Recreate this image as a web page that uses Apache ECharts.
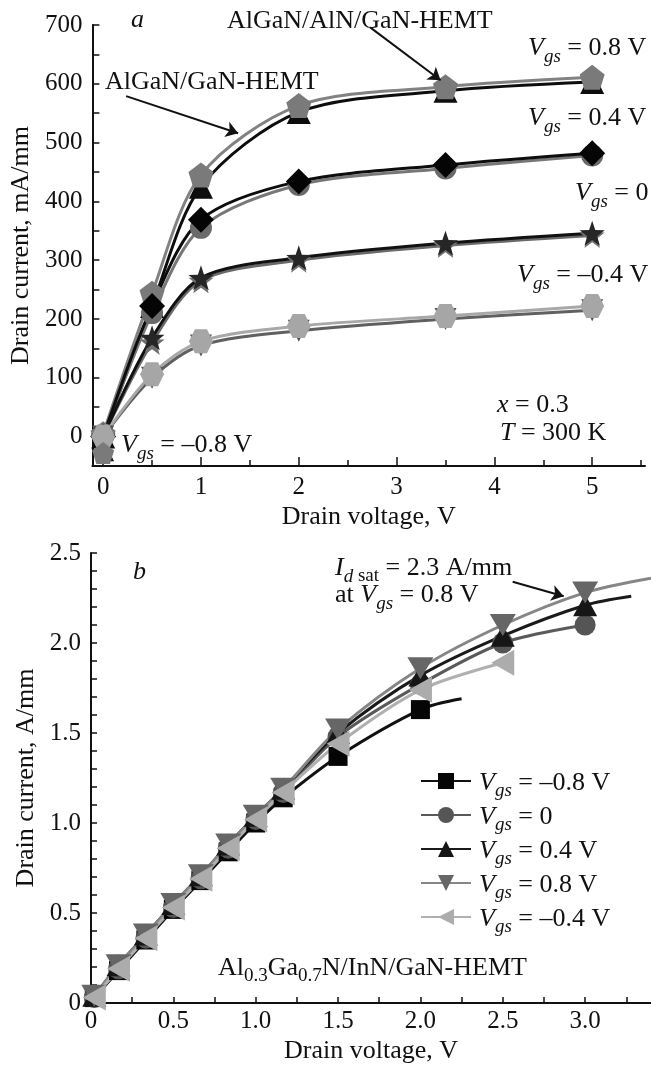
<!DOCTYPE html>
<html>
<head>
<meta charset="utf-8">
<script src="https://cdn.jsdelivr.net/npm/echarts@6.0.0/dist/echarts.min.js"></script>
<style>
  html, body { margin: 0; padding: 0; background: #fff; }
  #chart { width: 651px; height: 1070px; }
</style>
</head>
<body>
<div id="chart"></div>
<script>
// ---- panel a: AlGaN/GaN (black) vs AlGaN/AlN/GaN (gray), mA/mm ----
const aGaN08 = [[0, 0], [0.5, 222], [1, 425], [2, 552], [3.5, 588], [5, 603]]
const aGaN04 = [[0, 0], [0.5, 222], [1, 369], [2, 434], [3.5, 462], [5, 482]]
const aGaN0 = [[0, 0], [0.5, 168], [1, 270], [2, 304], [3.5, 329], [5, 346]]
const aGaNm04 = [[0, 0], [0.5, 100], [1, 155], [2, 180], [3.5, 200], [5, 215]]
const aAlN08 = [[0, 5], [0.5, 244], [1, 445], [2, 563], [3.5, 595], [5, 611]]
const aAlN04 = [[0, 0], [0.5, 210], [1, 355], [2, 428], [3.5, 456], [5, 478]]
const aAlN0 = [[0, 0], [0.5, 160], [1, 265], [2, 300], [3.5, 325], [5, 342]]
const aAlNm04 = [[0, 0], [0.5, 106], [1, 162], [2, 188], [3.5, 205], [5, 222]]
const aGaNm08 = [[0.04, -30]]
const aAlNm08 = [[0, -28]]

const aXLabels = [0, 1, 2, 3, 4, 5]
const aXTicks = [0, 1, 2, 3, 4, 5]
const aXMinorTicks = [0.5, 1.5, 2.5, 3.5, 4.5, 5.5]
const aYTicks = [0, 50, 100, 150, 200, 250, 300, 350, 400, 450, 500, 550, 600, 650, 700]
const aYLabels = [0, 100, 200, 300, 400, 500, 600, 700]

// ---- panel b: Al0.3Ga0.7N/InN/GaN, A/mm (last point without marker = end of fitted curve) ----
const bM08 = [[0.02, 0.03], [0.167, 0.18], [0.333, 0.35], [0.5, 0.52], [0.667, 0.68], [0.833, 0.84], [1.0, 1.0], [1.167, 1.14], [1.5, 1.37], [2.0, 1.63], [2.25, 1.69]]
const b0 = [[0.02, 0.03], [0.167, 0.19], [0.333, 0.36], [0.5, 0.53], [0.667, 0.69], [0.833, 0.86], [1.0, 1.02], [1.167, 1.17], [1.5, 1.48], [2.0, 1.77], [2.5, 2.0], [3.0, 2.1]]
const b04 = [[0.02, 0.04], [0.167, 0.21], [0.333, 0.38], [0.5, 0.55], [0.667, 0.71], [0.833, 0.88], [1.0, 1.04], [1.167, 1.19], [1.5, 1.5], [2.0, 1.82], [2.5, 2.04], [3.0, 2.21], [3.28, 2.26]]
const b08 = [[0.02, 0.04], [0.167, 0.21], [0.333, 0.38], [0.5, 0.55], [0.667, 0.71], [0.833, 0.88], [1.0, 1.04], [1.167, 1.19], [1.5, 1.52], [2.0, 1.86], [2.5, 2.1], [3.0, 2.28], [3.4, 2.36]]
const bM04 = [[0.02, 0.03], [0.167, 0.19], [0.333, 0.36], [0.5, 0.53], [0.667, 0.69], [0.833, 0.86], [1.0, 1.02], [1.167, 1.17], [1.5, 1.44], [2.0, 1.74], [2.5, 1.89]]

const bXTicks = [0, 0.25, 0.5, 0.75, 1, 1.25, 1.5, 1.75, 2, 2.25, 2.5, 2.75, 3, 3.25]
const bXLabels = [0, 0.5, 1, 1.5, 2, 2.5, 3]
const bYTicks = [0, 0.1, 0.2, 0.3, 0.4, 0.5, 0.6, 0.7, 0.8, 0.9, 1, 1.1, 1.2, 1.3, 1.4, 1.5, 1.6, 1.7, 1.8, 1.9, 2, 2.1, 2.2, 2.3, 2.4, 2.5]
const bYLabels = [0, 0.5, 1, 1.5, 2, 2.5]

const bEndPoints = [2.25, 3.28, 3.4] // x of curve ends drawn without marker

const FONT = 'Liberation Serif'
const PENTAGON = 'path://M0,-10 L9.51,-3.09 L5.88,8.09 L-5.88,8.09 L-9.51,-3.09 Z'
const HEXAGON = 'path://M-5,-9 L5,-9 L10,0 L5,9 L-5,9 L-10,0 Z'
const STAR = 'path://M0,-10 L2.35,-3.24 L9.51,-3.09 L3.8,1.24 L5.88,8.09 L0,4 L-5.88,8.09 L-3.8,1.24 L-9.51,-3.09 L-2.35,-3.24 Z'
const DOWN = 'path://M-10,-8 L10,-8 L0,9 Z'
const LEFT = 'path://M-10,0 L9,-10 L9,10 Z'

const rich = {
  i: { fontFamily: FONT, fontStyle: 'italic', fontSize: 26, lineHeight: 26, verticalAlign: 'top', color: '#111' },
  s: { fontFamily: FONT, fontStyle: 'italic', fontSize: 19, lineHeight: 18, padding: [12, 0, 0, 0], verticalAlign: 'top', color: '#111' },
  r: { fontFamily: FONT, fontSize: 19, lineHeight: 18, padding: [12, 0, 0, 0], verticalAlign: 'top', color: '#111' },
  n: { fontFamily: FONT, fontSize: 26, lineHeight: 26, verticalAlign: 'top', color: '#111' }
}
const legendRich = {
  i: { fontFamily: FONT, fontStyle: 'italic', fontSize: 26, lineHeight: 22, verticalAlign: 'top', color: '#111' },
  s: { fontFamily: FONT, fontStyle: 'italic', fontSize: 19, lineHeight: 16, padding: [11, 0, 0, 0], verticalAlign: 'top', color: '#111' },
  n: { fontFamily: FONT, fontSize: 26, lineHeight: 22, verticalAlign: 'top', color: '#111' }
}
const vgs = (rest) => `{i|V}{s|gs}{n| = ${rest}}`

const legendText = {
  bM08: vgs('–0.8 V'),
  b0: vgs('0'),
  b04: vgs('0.4 V'),
  b08: vgs('0.8 V'),
  bM04: vgs('–0.4 V')
}

// text with left edge x and centre y of main line
const txt = (x, y, text) => ({
  type: 'text',
  x: x,
  y: y - 13,
  style: { text: text, rich: rich, align: 'left', verticalAlign: 'top', font: `26px "${FONT}"`, fill: '#111' }
})

const isMult = (v, step) => Math.abs(v / step - Math.round(v / step)) < 1e-6

const arrowLine = (lines) => ({
  silent: true,
  animation: false,
  symbol: ['none', 'arrow'],
  symbolSize: 12,
  label: { show: false },
  lineStyle: { color: '#111', width: 2, type: 'solid' },
  emphasis: { disabled: true },
  data: lines.map(l => [{ coord: l[0] }, { coord: l[1] }])
})

const line = (name, data, grid, color, lineColor, symbol, size, extra) => Object.assign({
  name: name,
  type: 'line',
  xAxisIndex: grid === 0 ? 0 : 2,
  yAxisIndex: grid,
  data: data,
  smooth: 0.3,
  symbol: symbol,
  symbolSize: size,
  showAllSymbol: true,
  clip: false,
  lineStyle: { color: lineColor, width: 3 },
  itemStyle: { color: color, borderWidth: 0 },
  emphasis: { disabled: true }
}, extra || {})

// hide marker at the extrapolated curve ends in panel b
const bData = (arr) => arr.map(p => bEndPoints.includes(p[0]) ? { value: p, symbol: 'none' } : p)

const axisLine = { onZero: false, lineStyle: { color: '#111', width: 2 } }
const labelStyle = { color: '#111', fontFamily: FONT, fontSize: 25 }
const nameStyle = { color: '#111', fontFamily: FONT, fontSize: 26 }

const chart = echarts.init(document.getElementById('chart'), null, { renderer: 'canvas' })
chart.setOption({
  animation: false,
  backgroundColor: '#fff',
  grid: [
    { left: 91, right: 6, top: 25, bottom: 604 },
    { left: 91, right: 0, top: 553, bottom: 67 }
  ],
  xAxis: [
    {
      type: 'value', gridIndex: 0, min: -0.11, max: 5.54,
      axisLine: axisLine, splitLine: { show: false },
      name: 'Drain voltage, V', nameLocation: 'middle', nameGap: 38, nameTextStyle: nameStyle,
      axisTick: { inside: true, length: 9, customValues: aXTicks, lineStyle: { color: '#111', width: 1.5 } },
      axisLabel: Object.assign({ margin: 9, customValues: aXLabels }, labelStyle)
    },
    {
      type: 'value', gridIndex: 0, min: -0.11, max: 5.54, position: 'bottom',
      axisLine: { show: false, onZero: false }, splitLine: { show: false }, axisLabel: { show: false },
      axisTick: { inside: true, length: 6, customValues: aXMinorTicks, lineStyle: { color: '#111', width: 1.5 } }
    },
    {
      type: 'value', gridIndex: 1, min: 0, max: 3.4,
      axisLine: axisLine, splitLine: { show: false },
      name: 'Drain voltage, V', nameLocation: 'middle', nameGap: 35, nameTextStyle: nameStyle,
      axisTick: { inside: true, length: 6, customValues: bXTicks, lineStyle: { color: '#111', width: 1.5 } },
      axisLabel: Object.assign({
        margin: 6, customValues: bXLabels,
        formatter: v => v === 0 ? '0' : v.toFixed(1)
      }, labelStyle)
    }
  ],
  yAxis: [
    {
      type: 'value', gridIndex: 0, min: -50, max: 700,
      axisLine: axisLine, splitLine: { show: false },
      name: 'Drain current, mA/mm', nameLocation: 'middle', nameGap: 50, nameTextStyle: nameStyle,
      axisTick: { inside: true, length: 7, customValues: aYTicks, lineStyle: { color: '#111', width: 1.5 } },
      axisLabel: Object.assign({ margin: 10, customValues: aYLabels }, labelStyle)
    },
    {
      type: 'value', gridIndex: 1, min: 0, max: 2.5,
      axisLine: axisLine, splitLine: { show: false },
      name: 'Drain current, A/mm', nameLocation: 'middle', nameGap: 50, nameTextStyle: nameStyle,
      axisTick: { inside: true, length: 6, customValues: bYTicks, lineStyle: { color: '#111', width: 1.5 } },
      axisLabel: Object.assign({
        margin: 10, customValues: bYLabels,
        formatter: v => v === 0 ? '0' : (isMult(v, 0.5) ? v.toFixed(1) : '')
      }, labelStyle)
    }
  ],
  legend: {
    data: ['bM08', 'b0', 'b04', 'b08', 'bM04'],
    orient: 'vertical',
    left: 420,
    top: 770,
    padding: 0,
    itemGap: 4,
    itemWidth: 50,
    itemHeight: 20,
    selectedMode: false,
    formatter: n => legendText[n],
    textStyle: { rich: legendRich, padding: [0, 0, 0, 3] }
  },
  series: [
    // panel a, 0.8 V
    line('aGaN08', aGaN08, 0, '#0d0d0d', '#0d0d0d', 'triangle', 24, {
      markLine: arrowLine([[[0.235, 579], [1.38, 516]]])
    }),
    line('aAlN08', aAlN08, 0, '#7a7a7a', '#828282', PENTAGON, 25, {
      markLine: arrowLine([[[2.73, 696], [3.45, 606]]])
    }),
    // 0.4 V
    line('aAlN04', aAlN04, 0, '#6a6a6a', '#777777', 'circle', 22),
    line('aGaN04', aGaN04, 0, '#050505', '#0d0d0d', 'diamond', 26),
    // 0 V
    line('aAlN0', aAlN0, 0, '#707070', '#6a6a6a', STAR, 25),
    line('aGaN0', aGaN0, 0, '#262626', '#111111', STAR, 25),
    // -0.4 V
    line('aGaNm04', aGaNm04, 0, '#555555', '#606060', DOWN, 22),
    line('aAlNm04', aAlNm04, 0, '#a6a6a6', '#a8a8a8', HEXAGON, 24),
    // -0.8 V (no current)
    line('aGaNm08', aGaNm08, 0, '#111111', '#111111', 'triangle', 14),
    line('aAlNm08', aAlNm08, 0, '#7a7a7a', '#7a7a7a', PENTAGON, 22),

    // panel b
    line('bM08', bData(bM08), 1, '#050505', '#111111', 'rect', 19),
    line('b0', bData(b0), 1, '#555555', '#5a5a5a', 'circle', 21),
    line('b04', bData(b04), 1, '#161616', '#1a1a1a', 'triangle', [24, 22]),
    line('b08', bData(b08), 1, '#666666', '#868686', DOWN, [26, 22], {
      markLine: arrowLine([[[2.56, 2.34], [2.87, 2.26]]])
    }),
    line('bM04', bData(bM04), 1, '#acacac', '#b0b0b0', LEFT, [23, 26])
  ],
  graphic: [
    txt(131, 20, '{i|a}'),
    txt(227, 21, '{n|AlGaN/AlN/GaN-HEMT}'),
    txt(105, 82, '{n|AlGaN/GaN-HEMT}'),
    txt(528, 48, vgs('0.8 V')),
    txt(528, 118, vgs('0.4 V')),
    txt(575, 193, vgs('0')),
    txt(517, 275, vgs('–0.4 V')),
    txt(121, 445, vgs('–0.8 V')),
    txt(497, 405, '{i|x}{n| = 0.3}'),
    txt(500, 433, '{i|T}{n| = 300 K}'),

    txt(133, 572, '{i|b}'),
    txt(335, 568, '{i|I}{s|d}{r| sat}{n| = 2.3 A/mm}'),
    txt(335, 595, '{n|at }' + vgs('0.8 V')),
    txt(218, 968, '{n|Al}{r|0.3}{n|Ga}{r|0.7}{n|N/InN/GaN-HEMT}')
  ]
})
</script>
</body>
</html>
